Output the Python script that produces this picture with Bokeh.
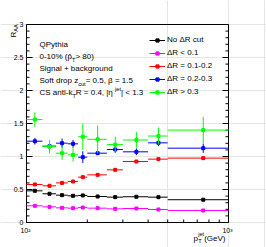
import math
from math import pi
from bokeh.plotting import figure
from bokeh.models import Range1d, Label, Legend, LegendItem, ColumnDataSource
from bokeh.embed import file_html
from bokeh.resources import INLINE

# ---------------- data ----------------
bin_edges = [100, 120, 140, 160, 180, 200, 250, 300, 400, 500, 1000]

series_labels = ["No \u0394R cut", "\u0394R < 0.1", "\u0394R = 0.1-0.2",
                 "\u0394R = 0.2-0.3", "\u0394R > 0.3"]
series_colors = ["#000000", "#ff00ff", "#ff0000", "#0000ff", "#00ff00"]

raa_nocut = [0.48, 0.435, 0.414, 0.404, 0.41, 0.394, 0.384, 0.39, 0.384, 0.345]
err_nocut = [0.01, 0.008, 0.008, 0.008, 0.008, 0.008, 0.008, 0.008, 0.008, 0.01]

raa_dr01 = [0.253, 0.237, 0.222, 0.217, 0.227, 0.217, 0.207, 0.212, 0.197, 0.182]
err_dr01 = [0.008, 0.006, 0.006, 0.006, 0.006, 0.006, 0.006, 0.006, 0.006, 0.008]

raa_dr0102 = [0.576, 0.556, 0.60, 0.621, 0.687, 0.722, 0.798, 0.924, 0.96, 0.975]
err_dr0102 = [0.012, 0.012, 0.012, 0.015, 0.015, 0.015, 0.015, 0.02, 0.02, 0.025]

raa_dr0203 = [1.232, 1.157, 1.202, 1.192, 0.99, 1.05, 1.106, 1.071, 1.207, 1.126]
err_dr0203 = [0.05, 0.02, 0.07, 0.06, 0.09, 0.02, 0.05, 0.05, 0.05, 0.07]

raa_dr03 = [1.56, 1.15, 1.05, 1.025, 1.30, 1.26, 1.18, 1.25, 1.31, 1.40]
err_dr03 = [0.11, 0.10, 0.10, 0.10, 0.20, 0.21, 0.12, 0.12, 0.13, 0.20]

x_limits = (100, 1000)
y_limits = (0, 3)
y_tick_values = [0, 0.5, 1, 1.5, 2, 2.5, 3]
y_tick_labels = ["0", "0.5", "1", "1.5", "2", "2.5", "3"]
y_minor_step = 0.1
x_tick_values = [100, 1000]
x_tick_labels = ["10\u00b2", "10\u00b3"]
x_minor_values = [200, 300, 400, 500, 600, 700, 800, 900]

info_lines = [
    [("QPythia", "n")],
    [("0-10% (p\u0302", "n"), ("T", "sub"), (" > 80)", "n")],
    [("Signal + background", "n")],
    [("Soft drop z", "n"), ("cut", "sub"), (" = 0.5, \u03b2 = 1.5", "n")],
    [("CS anti-k", "n"), ("T", "sub"), (" R = 0.4, |\u03b7", "n"), ("jet", "sup"), ("| < 1.3", "n")],
]

FONT = "Liberation Sans"

# ---------------- layout (pixels on the canvas) ----------------
CW, CH = 266, 247
BOX_L, BOX_R, BOX_T, BOX_B = 26, 228, 24, 222   # the framed axes box

lx0, lx1 = math.log10(x_limits[0]), math.log10(x_limits[1])
px_per_dec = (BOX_R - BOX_L) / (lx1 - lx0)
x_start = 10 ** (lx0 - BOX_L / px_per_dec)
x_end = 10 ** (lx1 + (CW - BOX_R) / px_per_dec)
px_per_unit = (BOX_B - BOX_T) / (y_limits[1] - y_limits[0])
y_start = y_limits[0] - (CH - BOX_B) / px_per_unit
y_end = y_limits[1] + BOX_T / px_per_unit

# Arial-metric widths (per 1000 em) for composing sub/superscripts
W = {" ": 278, "%": 889, "(": 333, ")": 333, "+": 584, ",": 278, "-": 333, ".": 278,
     "<": 584, "=": 584, ">": 584, "|": 260, "A": 667, "C": 722, "G": 778, "P": 667,
     "Q": 778, "R": 722, "S": 667, "T": 611, "V": 667, "a": 556, "b": 556, "c": 500,
     "d": 556, "e": 556, "f": 278, "g": 556, "h": 556, "i": 222, "j": 222, "k": 500,
     "l": 222, "n": 556, "o": 556, "p": 556, "r": 333, "s": 500, "t": 278, "u": 556,
     "y": 500, "z": 500, "\u03b2": 575, "\u03b7": 556, "\u0394": 668, "\u0302": 0}


def tw(s, size):
    return sum(W.get(c, 556) for c in s) * size / 1000.0


# ---------------- figure ----------------
p = figure(width=CW, height=CH, x_axis_type="log", x_axis_location=None,
           y_axis_location=None, x_range=Range1d(x_start, x_end),
           y_range=Range1d(y_start, y_end), output_backend="svg",
           toolbar_location=None, min_border=0)
p.title.visible = False
p.outline_line_color = None
p.background_fill_color = "white"
p.border_fill_color = "white"

# ---------------- frame and ticks ----------------
p.quad(left=[x_limits[0]], right=[x_limits[1]], bottom=[y_limits[0]], top=[y_limits[1]],
       fill_color=None, line_color="black", line_width=1)

y_minor = []
n_minor = int(round((y_limits[1] - y_limits[0]) / y_minor_step))
for i in range(n_minor + 1):
    val = round(y_limits[0] + i * y_minor_step, 6)
    if all(abs(val - t) > 1e-6 for t in y_tick_values):
        y_minor.append(val)

# left side (ticks pointing right) and right side (pointing left)
p.ray(x=[x_limits[0]] * len(y_tick_values), y=y_tick_values, length=6,
      length_units="screen", angle=0, line_color="black", line_width=1)
p.ray(x=[x_limits[0]] * len(y_minor), y=y_minor, length=3,
      length_units="screen", angle=0, line_color="black", line_width=1)
p.ray(x=[x_limits[1]] * len(y_tick_values), y=y_tick_values, length=6,
      length_units="screen", angle=pi, line_color="black", line_width=1)
p.ray(x=[x_limits[1]] * len(y_minor), y=y_minor, length=3,
      length_units="screen", angle=pi, line_color="black", line_width=1)
# bottom (pointing up)
p.ray(x=x_tick_values, y=[y_limits[0]] * len(x_tick_values), length=6,
      length_units="screen", angle=pi / 2, line_color="black", line_width=1)
p.ray(x=x_minor_values, y=[y_limits[0]] * len(x_minor_values), length=3,
      length_units="screen", angle=pi / 2, line_color="black", line_width=1)

for val, lab in zip(y_tick_values, y_tick_labels):
    p.add_layout(Label(x=x_limits[0], y=val, x_offset=-3, text=lab, text_font=FONT,
                       text_font_size="7px", text_color="black",
                       text_align="right", text_baseline="middle"))
for val, lab in zip(x_tick_values, x_tick_labels):
    p.add_layout(Label(x=val, y=y_limits[0], x_offset=-1, y_offset=-4, text=lab,
                       text_font=FONT, text_font_size="7px", text_color="black",
                       text_align="center", text_baseline="top"))

# ---------------- series ----------------
all_values = [raa_nocut, raa_dr01, raa_dr0102, raa_dr0203, raa_dr03]
all_errors = [err_nocut, err_dr01, err_dr0102, err_dr0203, err_dr03]

x_lo = bin_edges[:-1]
x_hi = bin_edges[1:]
x_c = [(a + b) / 2.0 for a, b in zip(x_lo, x_hi)]

legend_items = []
for vals, errs, col, lab in zip(all_values, all_errors, series_colors, series_labels):
    src = ColumnDataSource(dict(
        xlo=x_lo, xhi=x_hi, xc=x_c, y=vals,
        ylo=[a - e for a, e in zip(vals, errs)],
        yhi=[a + e for a, e in zip(vals, errs)]))
    h = p.segment(x0="xlo", x1="xhi", y0="y", y1="y", source=src,
                  line_color=col, line_width=1)
    p.segment(x0="xc", x1="xc", y0="ylo", y1="yhi", source=src,
              line_color=col, line_width=1)
    s = p.scatter(x="xc", y="y", source=src, marker="square", size=3,
                  fill_color=col, line_color=col)
    legend_items.append(LegendItem(label=lab, renderers=[h, s]))

legend = Legend(items=legend_items, location=(149, CH - 98), padding=0, spacing=0,
                margin=0, label_height=13, glyph_height=8, glyph_width=16,
                label_standoff=2, label_text_font=FONT, label_text_font_size="8px",
                label_text_color="black",
                border_line_color=None, background_fill_alpha=0)
p.add_layout(legend)

# ---------------- texts ----------------
SIZES = {"n": 8, "sub": 5.6, "sup": 5.6}
DY = {"n": 0, "sub": -3, "sup": 3.5}


def add_label(ax, ay, xo, yo, text, size, angle=0.0):
    p.add_layout(Label(x=ax, y=ay, x_offset=xo, y_offset=yo, text=text, angle=angle,
                       text_font=FONT, text_font_size=f"{size}px", text_color="black",
                       text_baseline="alphabetic", text_align="left"))


# info block, anchored at the top-left corner of the box
row_baselines = [-20, -32, -44, -56, -68]
for parts, yb in zip(info_lines, row_baselines):
    xo = 13
    for text, kind in parts:
        size = SIZES[kind]
        add_label(x_limits[0], y_limits[1], xo, yb + DY[kind], text, size)
        xo += tw(text, size)

# y title R_AA (rotated), anchored at the top-left corner of the box
add_label(x_limits[0], y_limits[1], -13, -13, "R", 8, angle=pi / 2)
add_label(x_limits[0], y_limits[1], -10.5, -13 + tw("R", 8), "AA", 5.6, angle=pi / 2)

# x title p_T^jet (GeV), anchored at the bottom-right corner of the box
xt0, yt = -35, -15.5
add_label(x_limits[1], y_limits[0], xt0, yt, "p", 8)
xs = xt0 + tw("p", 8) + 0.3
add_label(x_limits[1], y_limits[0], xs, yt - 3, "T", 5.6)
add_label(x_limits[1], y_limits[0], xs, yt + 4, "jet", 5.6)
xg = xs + max(tw("T", 5.6), tw("jet", 5.6))
add_label(x_limits[1], y_limits[0], xg, yt, " (GeV)", 8)

open("out.html", "w").write(file_html(p, INLINE))
